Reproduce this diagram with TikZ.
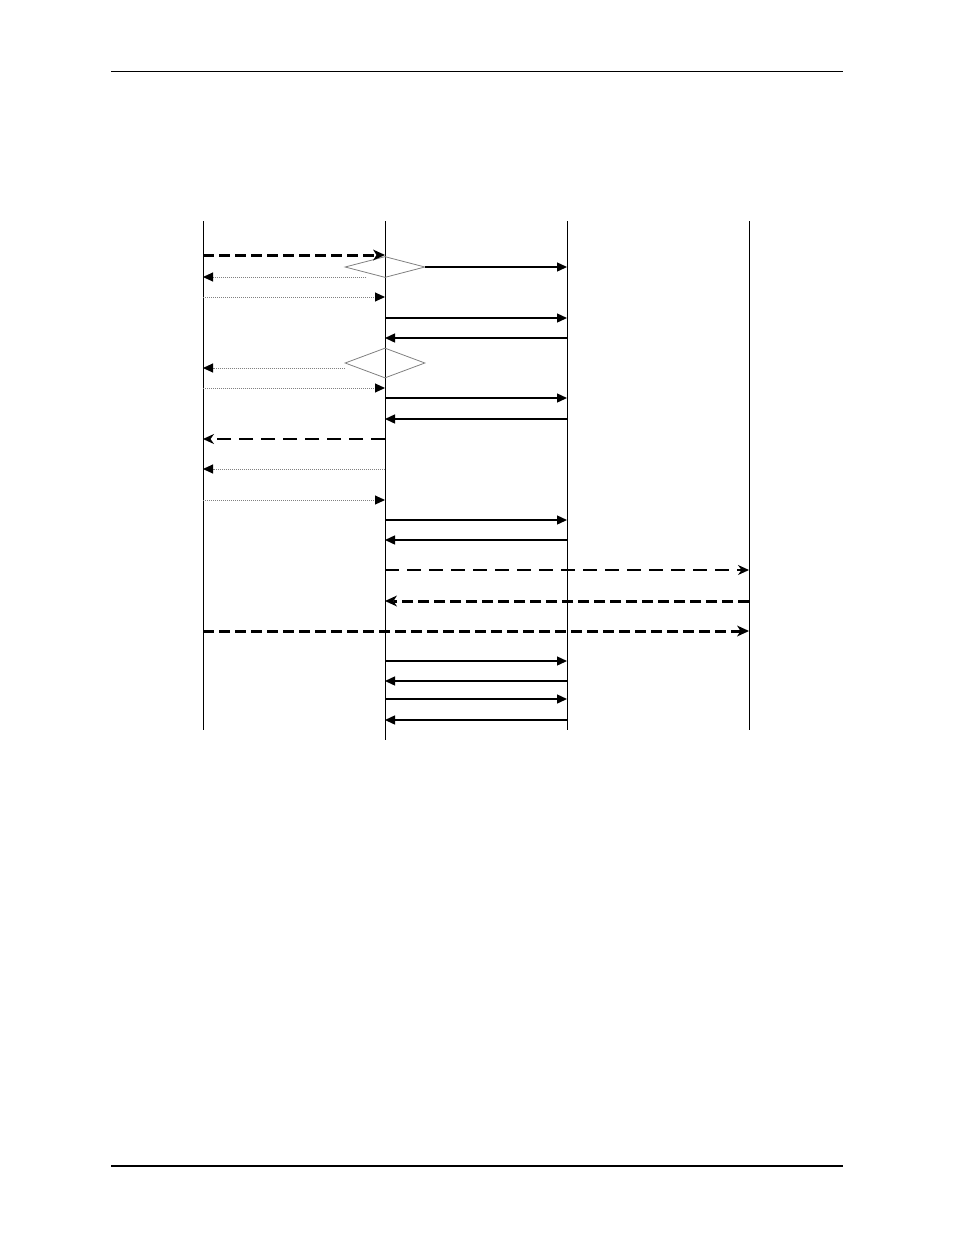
\documentclass[tikz,border=0pt]{standalone}
\usetikzlibrary{arrows.meta,shapes.geometric}
\begin{document}
\begin{tikzpicture}[x=1pt,y=-1pt,
  life/.style={line width=1pt},
  solidmsg/.style={line width=1.4pt,-{Triangle[length=10pt,width=9pt]}},
  dotmsg/.style={line width=1pt,gray,dash pattern=on 1pt off 1pt,-{Triangle[length=10pt,width=9pt,black]}},
  dashmsg/.style={line width=1.3pt,dash pattern=on 14pt off 8pt,-{Stealth[length=11pt,width=10pt,inset=3.5pt]}},
  thickdash/.style={line width=3pt,dash pattern=on 11pt off 5pt,-{Stealth[length=12pt,width=11pt,inset=3.5pt,line width=0pt]}},
  decision/.style={diamond,draw=gray,line width=0.8pt,inner sep=0pt}
]
\useasboundingbox (0,0) rectangle (954,1235);
% header and footer rules
\coordinate (h1) at (111,71); \coordinate (h2) at (843,71);
\draw[line width=1pt] (h1) -- (h2);
\coordinate (f1) at (111,1166); \coordinate (f2) at (843,1166);
\draw[line width=2.4pt] (f1) -- (f2);
% lifelines
\coordinate (t1) at (203,221); \coordinate (b1) at (203,730);
\coordinate (t2) at (385,221); \coordinate (b2) at (385,740);
\coordinate (t3) at (567,221); \coordinate (b3) at (567,730);
\coordinate (t4) at (749,221); \coordinate (b4) at (749,730);
\draw[life] (t1) -- (b1);
\draw[life] (t2) -- (b2);
\draw[life] (t3) -- (b3);
\draw[life] (t4) -- (b4);
% decisions
\node[decision,minimum width=80pt,minimum height=21pt] (d1) at (385,267) {};
\node[decision,minimum width=80pt,minimum height=30pt] (d2) at (385,363) {};
% messages
\coordinate (m1a) at (203,255); \coordinate (m1b) at (385,255);
\draw[thickdash] (m1a) -- (m1b);
\coordinate (m2b) at (567,267);
\draw[solidmsg] (d1.east) -- (m2b);
\coordinate (m3a) at (366,277); \coordinate (m3b) at (203,277);
\draw[dotmsg] (m3a) -- (m3b);
\coordinate (m4a) at (203,297); \coordinate (m4b) at (385,297);
\draw[dotmsg] (m4a) -- (m4b);
\coordinate (m5a) at (385,318); \coordinate (m5b) at (567,318);
\draw[solidmsg] (m5a) -- (m5b);
\coordinate (m6a) at (567,338); \coordinate (m6b) at (385,338);
\draw[solidmsg] (m6a) -- (m6b);
\coordinate (m7a) at (345,368); \coordinate (m7b) at (203,368);
\draw[dotmsg] (m7a) -- (m7b);
\coordinate (m8a) at (203,388); \coordinate (m8b) at (385,388);
\draw[dotmsg] (m8a) -- (m8b);
\coordinate (m9a) at (385,398); \coordinate (m9b) at (567,398);
\draw[solidmsg] (m9a) -- (m9b);
\coordinate (m10a) at (567,419); \coordinate (m10b) at (385,419);
\draw[solidmsg] (m10a) -- (m10b);
\coordinate (m11a) at (385,439); \coordinate (m11b) at (203,439);
\draw[dashmsg] (m11a) -- (m11b);
\coordinate (m12a) at (385,469); \coordinate (m12b) at (203,469);
\draw[dotmsg] (m12a) -- (m12b);
\coordinate (m13a) at (203,500); \coordinate (m13b) at (385,500);
\draw[dotmsg] (m13a) -- (m13b);
\coordinate (m14a) at (385,520); \coordinate (m14b) at (567,520);
\draw[solidmsg] (m14a) -- (m14b);
\coordinate (m15a) at (567,540); \coordinate (m15b) at (385,540);
\draw[solidmsg] (m15a) -- (m15b);
\coordinate (m16a) at (385,570); \coordinate (m16b) at (749,570);
\draw[dashmsg] (m16a) -- (m16b);
\coordinate (m17a) at (749,601); \coordinate (m17b) at (385,601);
\draw[thickdash] (m17a) -- (m17b);
\coordinate (m18a) at (203,631); \coordinate (m18b) at (749,631);
\draw[thickdash] (m18a) -- (m18b);
\coordinate (m19a) at (385,661); \coordinate (m19b) at (567,661);
\draw[solidmsg] (m19a) -- (m19b);
\coordinate (m20a) at (567,681); \coordinate (m20b) at (385,681);
\draw[solidmsg] (m20a) -- (m20b);
\coordinate (m21a) at (385,699); \coordinate (m21b) at (567,699);
\draw[solidmsg] (m21a) -- (m21b);
\coordinate (m22a) at (567,720); \coordinate (m22b) at (385,720);
\draw[solidmsg] (m22a) -- (m22b);
\end{tikzpicture}
\end{document}
